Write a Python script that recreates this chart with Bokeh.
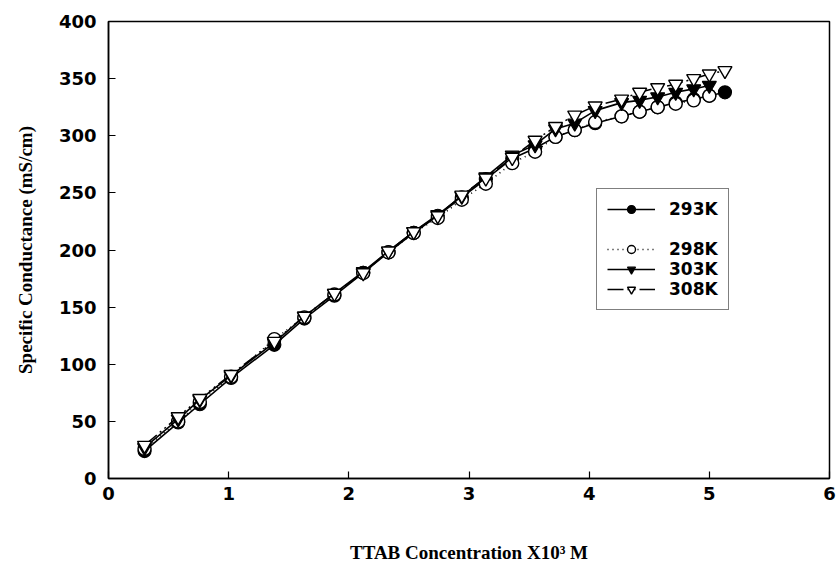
from bokeh.plotting import figure
from bokeh.models import Legend, LegendItem, Range1d, FixedTicker
from bokeh.embed import file_html
from bokeh.resources import INLINE

# ---- data ----
x_ticks = [0, 1, 2, 3, 4, 5, 6]
y_ticks = [0, 50, 100, 150, 200, 250, 300, 350, 400]

x_293 = [0.30, 0.58, 0.76, 1.02, 1.38, 1.63, 1.88, 2.12, 2.33, 2.54, 2.74, 2.94, 3.14, 3.36, 3.55,
         3.72, 3.88, 4.05, 4.27, 4.42, 4.57, 4.72, 4.87, 5.00, 5.13]
k293 = [24, 49, 65, 88, 117, 140, 160, 180, 198, 215, 230, 246, 262, 280, 289,
        299, 305, 311, 317, 321, 325, 329, 332, 335, 338]

x_298 = [0.30, 0.58, 0.76, 1.02, 1.38, 1.63, 1.88, 2.12, 2.33, 2.54, 2.74, 2.94, 3.14, 3.36, 3.55,
         3.72, 3.88, 4.05, 4.27, 4.42, 4.57, 4.72, 4.87, 5.00]
k298 = [26, 50, 67, 89, 122, 141, 161, 180, 198, 215, 228, 244, 258, 276, 286,
        299, 305, 312, 317, 321, 325, 328, 331, 335]

x_303 = [0.30, 0.58, 0.76, 1.02, 1.38, 1.63, 1.88, 2.12, 2.33, 2.54, 2.74, 2.94, 3.14, 3.36, 3.55,
         3.72, 3.88, 4.05, 4.27, 4.42, 4.57, 4.72, 4.87, 5.00]
k303 = [27, 52, 69, 90, 119, 142, 162, 181, 199, 216, 231, 247, 264, 283, 292,
        306, 311, 322, 329, 331, 334, 338, 341, 344]

x_308 = [0.30, 0.58, 0.76, 1.02, 1.38, 1.63, 1.88, 2.12, 2.33, 2.54, 2.74, 2.94, 3.14, 3.36, 3.55,
         3.72, 3.88, 4.05, 4.27, 4.42, 4.57, 4.72, 4.87, 5.00, 5.13]
k308 = [29, 54, 70, 91, 120, 142, 162, 180, 199, 216, 230, 248, 263, 281, 296,
        308, 318, 326, 332, 338, 342, 345, 350, 354, 357]

labels = ["293K", "298K", "303K", "308K"]

p = figure(width=838, height=571, output_backend="svg", toolbar_location=None,
           x_range=Range1d(0, 6), y_range=Range1d(0, 400),
           min_border_left=108, min_border_right=9, min_border_top=21, min_border_bottom=93,
           background_fill_color="white", border_fill_color="white")

p.grid.visible = False
p.outline_line_color = "black"
p.outline_line_width = 1.5

for ax in (p.xaxis[0], p.yaxis[0]):
    ax.axis_line_width = 1.5
    ax.major_tick_line_width = 1.2
    ax.major_tick_in = 7
    ax.major_tick_out = 0
    ax.minor_tick_in = 0
    ax.minor_tick_out = 0
    ax.major_label_text_font = "DejaVu Sans"
    ax.major_label_text_font_style = "bold"
    ax.major_label_text_font_size = "18px"
    ax.major_label_text_color = "black"
    ax.axis_label_text_font = "Liberation Serif"
    ax.axis_label_text_font_style = "bold"
    ax.axis_label_text_font_size = "19px"
    ax.axis_label_text_color = "black"

p.xaxis.ticker = FixedTicker(ticks=x_ticks)
p.yaxis.ticker = FixedTicker(ticks=y_ticks)
p.xaxis.major_label_standoff = 8
p.yaxis.major_label_standoff = 12
p.xaxis.axis_label = "TTAB Concentration X10\u00b3 M"
p.yaxis.axis_label = "Specific Conductance (mS/cm)"
p.xaxis.axis_label_standoff = 39
p.yaxis.axis_label_standoff = 20

ms = 13
l1 = p.line(x_293, k293, line_color="black", line_width=1.6)
m1 = p.scatter(x_293, k293, marker="circle", size=ms, fill_color="black", line_color="black", line_width=1.2)

l2 = p.line(x_298, k298, line_color="black", line_width=1.5, line_dash="1 4")
m2 = p.scatter(x_298, k298, marker="circle", size=ms, fill_color="white", line_color="black", line_width=1.4)

l3 = p.line(x_303, k303, line_color="black", line_width=1.6)
m3 = p.scatter(x_303, k303, marker="inverted_triangle", size=ms + 1, fill_color="black", line_color="black", line_width=1.2)

l4 = p.line(x_308, k308, line_color="black", line_width=1.5, line_dash="16 4 2 4 2 4")
m4 = p.scatter(x_308, k308, marker="inverted_triangle", size=ms + 1, fill_color="white", line_color="black", line_width=1.4)

blank = p.line([], [], line_alpha=0)

legend = Legend(items=[
    LegendItem(label=labels[0], renderers=[l1, m1]),
    LegendItem(label=" ", renderers=[blank]),
    LegendItem(label=labels[1], renderers=[l2, m2]),
    LegendItem(label=labels[2], renderers=[l3, m3]),
    LegendItem(label=labels[3], renderers=[l4, m4]),
], location=(488, 168))
legend.border_line_color = "black"
legend.border_line_width = 1.5
legend.background_fill_color = "white"
legend.background_fill_alpha = 1
legend.padding = 10
legend.spacing = 0
legend.glyph_width = 48
legend.glyph_height = 20
legend.label_height = 20
legend.label_standoff = 14
legend.label_text_font = "DejaVu Sans"
legend.label_text_font_style = "bold"
legend.label_text_font_size = "17px"
legend.label_text_color = "black"
legend.label_text_line_height = 1.0
legend.margin = 0
p.add_layout(legend, "center")

open("out.html", "w").write(file_html(p, INLINE))
